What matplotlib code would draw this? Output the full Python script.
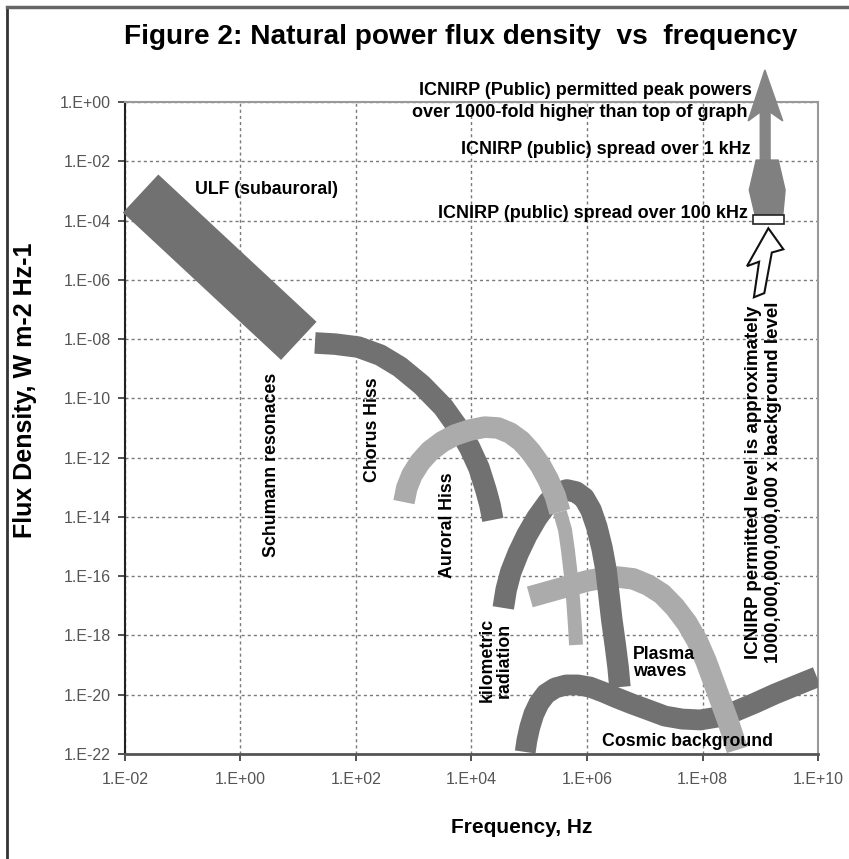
import numpy as np
import matplotlib.pyplot as plt
from matplotlib.lines import Line2D
from matplotlib.ticker import FixedLocator, FuncFormatter, NullLocator

plt.rcParams['font.family'] = ['Liberation Sans', 'DejaVu Sans']

# band centre lines as log10(frequency), log10(flux)
ulf_x = [-1.73, 1.01]
ulf_y = [-3.09, -8.06]

chorus_x = [1.29, 1.64, 2.04, 2.42, 2.76, 3.14, 3.51, 3.77, 3.97, 4.13, 4.25, 4.32, 4.37]
chorus_y = [-8.13, -8.17, -8.27, -8.54, -8.94, -9.55, -10.29, -11.00, -11.67, -12.35, -13.09, -13.60, -14.10]

auroral_x = [2.83, 2.88, 2.97, 3.11, 3.28, 3.49, 3.71, 3.97, 4.23, 4.46, 4.67, 4.86, 5.03, 5.19,
             5.33, 5.45, 5.53]
auroral_y = [-13.50, -13.02, -12.58, -12.15, -11.78, -11.47, -11.24, -11.07, -10.97, -11.00, -11.17,
             -11.44, -11.81, -12.25, -12.75, -13.29, -13.83]
auroral_tail_x = [5.53, 5.62, 5.67, 5.72, 5.76, 5.79, 5.81]
auroral_tail_y = [-13.83, -14.44, -15.12, -15.96, -16.80, -17.65, -18.32]

kilometric_x = [4.55, 4.60, 4.68, 4.81, 4.96, 5.13, 5.33, 5.50, 5.65, 5.81, 5.95, 6.07, 6.17, 6.26,
                6.33, 6.38, 6.43, 6.49, 6.54, 6.57]
kilometric_y = [-17.07, -16.46, -15.86, -15.22, -14.61, -14.04, -13.50, -13.19, -13.09, -13.16, -13.36,
                -13.77, -14.34, -15.05, -15.79, -16.63, -17.48, -18.32, -19.10, -19.74]

plasma_x = [5.01, 5.45, 6.00, 6.28, 6.54, 6.80, 7.06, 7.30, 7.52, 7.73, 7.91, 8.06, 8.20, 8.32,
            8.44, 8.53, 8.60]
plasma_y = [-16.70, -16.46, -16.16, -16.06, -16.03, -16.09, -16.30, -16.60, -17.04, -17.58, -18.19,
            -18.86, -19.60, -20.24, -20.88, -21.42, -21.86]

cosmic_x = [4.93, 4.96, 5.01, 5.08, 5.17, 5.29, 5.45, 5.64, 5.84, 6.05, 6.28, 6.52, 6.78, 7.06,
            7.35, 7.65, 7.96, 8.27, 8.58, 8.91, 9.26, 9.60, 9.98]
cosmic_y = [-21.93, -21.53, -21.09, -20.65, -20.28, -19.97, -19.77, -19.67, -19.67, -19.74, -19.91,
            -20.11, -20.31, -20.51, -20.72, -20.82, -20.85, -20.75, -20.55, -20.28, -19.97, -19.70, -19.40]

# ICNIRP symbols (log10 values)
peak_arrow_x = [9.08, 9.39, 9.17, 9.17, 9.00, 9.00, 8.79]
peak_arrow_y = [1.08, -0.64, -0.34, -2.02, -2.02, -0.34, -0.64]
khz1_x = [8.93, 9.31, 9.43, 9.39, 8.91, 8.81]
khz1_y = [-1.96, -1.96, -2.97, -3.81, -3.81, -2.97]
khz100_x = [8.87, 9.41, 9.41, 8.87]
khz100_y = [-3.81, -3.81, -4.12, -4.12]
hollow_x = [9.14, 9.40, 9.20, 9.07, 8.89, 8.98, 8.77]
hollow_y = [-4.26, -4.97, -5.08, -6.45, -6.59, -5.39, -5.54]

xticks = [-2, 0, 2, 4, 6, 8, 10]
yticks = [0, -2, -4, -6, -8, -10, -12, -14, -16, -18, -20, -22]

DARK = '#717171'
LIGHT = '#ababab'


def p(v):
    return 10.0 ** np.array(v)


fig = plt.figure(figsize=(8.49, 8.59), dpi=100)
ax = fig.add_axes([0.1472, 0.1222, 0.8163, 0.7591])
ax.set_xscale('log')
ax.set_yscale('log')
ax.set_xlim(1e-2, 1e10)
ax.set_ylim(1e-22, 1e0)

band = dict(solid_capstyle='butt', solid_joinstyle='round')
ax.plot(p(ulf_x), p(ulf_y), lw=37.5, color=DARK, zorder=5, clip_on=False, **band)
ax.plot(p(cosmic_x), p(cosmic_y), lw=15, color=DARK, zorder=3, **band)
ax.plot(p(plasma_x), p(plasma_y), lw=15.5, color=LIGHT, zorder=4, **band)
ax.plot(p(kilometric_x), p(kilometric_y), lw=15.5, color=DARK, zorder=5, **band)
ax.plot(p(chorus_x), p(chorus_y), lw=15.5, color=DARK, zorder=5, **band)
ax.plot(p(auroral_x), p(auroral_y), lw=15.5, color=LIGHT, zorder=6, **band)
ax.plot(p(auroral_tail_x), p(auroral_tail_y), lw=10, color=LIGHT, zorder=6, **band)

ax.fill(p(peak_arrow_x), p(peak_arrow_y), color='#858585', zorder=6, clip_on=False)
ax.fill(p(khz1_x), p(khz1_y), color='#808080', zorder=6, clip_on=False)
ax.fill(p(khz100_x), p(khz100_y), facecolor='white', edgecolor='#222', lw=1.2, zorder=7, clip_on=False)
ax.fill(p(hollow_x), p(hollow_y), facecolor='white', edgecolor='#111', lw=1.5, zorder=7, clip_on=False)

# axes styling
ax.xaxis.set_major_locator(FixedLocator(p(xticks)))
ax.yaxis.set_major_locator(FixedLocator(p(yticks)))
ax.xaxis.set_minor_locator(NullLocator())
ax.yaxis.set_minor_locator(NullLocator())
fmt = FuncFormatter(lambda v, pos: '1.E%+03d' % int(round(np.log10(v))))
ax.xaxis.set_major_formatter(fmt)
ax.yaxis.set_major_formatter(fmt)
ax.tick_params(axis='both', direction='out', length=5, width=1.2, color='#333',
               labelsize=11.5, labelcolor='#555')
ax.tick_params(axis='x', pad=8)
ax.tick_params(axis='y', pad=5)
ax.grid(True, linestyle=(0, (2.2, 2.2)), color='#7a7a7a', linewidth=1, zorder=1)
ax.set_axisbelow(True)
ax.spines['left'].set_color('#222')
ax.spines['left'].set_linewidth(1.5)
ax.spines['bottom'].set_color('#555')
ax.spines['bottom'].set_linewidth(2)
ax.spines['top'].set_color('#999')
ax.spines['top'].set_linewidth(1.5)
ax.spines['right'].set_color('#999')
ax.spines['right'].set_linewidth(1.5)

ax.set_xlabel('Frequency, Hz', fontsize=15, fontweight='bold')
ax.xaxis.set_label_coords(0.573, -0.098)
ax.set_ylabel('Flux Density, W m-2 Hz-1', fontsize=18, fontweight='bold')
ax.yaxis.set_label_coords(-0.127, 0.558)

fig.text(0.543, 0.957, 'Figure 2: Natural power flux density  vs  frequency',
         ha='center', va='center', fontsize=20.2, fontweight='bold')

lab = dict(fontsize=12.8, fontweight='bold', zorder=8)
ax.text(10 ** -0.79, 10 ** -2.97, 'ULF (subauroral)', ha='left', va='center', **lab)
ax.text(10 ** 0.53, 10 ** -12.25, 'Schumann resonaces', rotation=90, ha='center', va='center', **lab)
ax.text(10 ** 2.28, 10 ** -11.07, 'Chorus Hiss', rotation=90, ha='center', va='center', **lab)
ax.text(10 ** 3.59, 10 ** -14.27, 'Auroral Hiss', rotation=90, ha='center', va='center', **lab)
ax.text(10 ** 4.42, 10 ** -18.83, 'kilometric\nradiation', rotation=90, ha='center', va='center',
        linespacing=1.0, **lab)
ax.text(10 ** 6.80, 10 ** -18.93, 'Plasma\nwaves', ha='left', va='center', linespacing=1.05, **lab)
ax.text(10 ** 6.26, 10 ** -21.59, 'Cosmic background', ha='left', va='center', **lab)
ax.text(10 ** 9.05, 10 ** -12.82,
        'ICNIRP permitted level is approximately\n1000,000,000,000,000 x background level',
        rotation=90, ha='center', va='center', multialignment='center', linespacing=1.25,
        fontsize=13.5, fontweight='bold', zorder=8)

top = dict(fontsize=13, fontweight='bold', ha='right', va='center', zorder=8)
ax.text(10 ** 8.85, 10 ** 0.37, 'ICNIRP (Public) permitted peak powers', **top)
ax.text(10 ** 8.78, 10 ** -0.37, 'over 1000-fold higher than top of graph', **top)
ax.text(10 ** 8.83, 10 ** -1.62, 'ICNIRP (public) spread over 1 kHz', **top)
ax.text(10 ** 8.78, 10 ** -3.75, 'ICNIRP (public) spread over 100 kHz', **top)

# outer frame (left and top edges)
fig.add_artist(Line2D([0.008, 0.008], [0.0, 0.992], color='#333', lw=2))
fig.add_artist(Line2D([0.008, 1.0], [0.992, 0.992], color='#666', lw=2.5))

fig.savefig('out.png', dpi=100)
